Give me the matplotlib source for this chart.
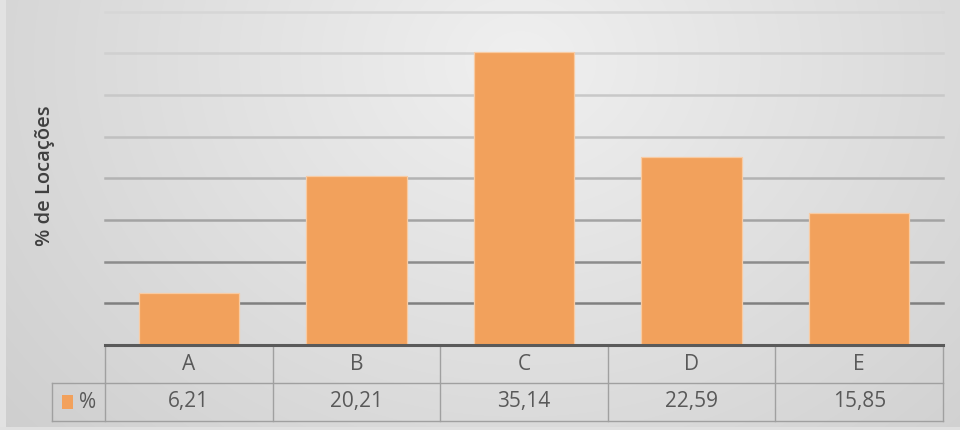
import numpy as np
import matplotlib
matplotlib.use("Agg")
import matplotlib.pyplot as plt
from matplotlib.transforms import blended_transform_factory

categories = ["A", "B", "C", "D", "E"]
values = [6.21, 20.21, 35.14, 22.59, 15.85]
value_labels = ["6,21", "20,21", "35,14", "22,59", "15,85"]
series_name = "%"
ylabel = "% de Locações"
grid_levels = [5, 10, 15, 20, 25, 30, 35, 40]

plt.rcParams['font.family'] = ['Open Sans', 'DejaVu Sans']

W, H = 960, 430
fig = plt.figure(figsize=(W / 100, H / 100), dpi=100)

# background gradient
bg = fig.add_axes([0, 0, 1, 1], zorder=-10)
yy, xx = np.mgrid[0:H, 0:W]
cx, cy = 520, 60
d = np.sqrt(((xx - cx) / 620.0) ** 2 + ((yy - cy) / 520.0) ** 2)
g = 0.94 - 0.14 * np.clip(d, 0, 1.3) / 1.3 * 1.1
g = np.clip(g, 0.78, 0.95)
img = np.dstack([g, g, g])
img[:, :6, :] = 0.89
img[427:, :, :] = 0.88
bg.imshow(img, aspect='auto', extent=[0, W, H, 0])
bg.set_axis_off()

left_px, right_px, top_px, bot_px = 105, 943, 11.5, 345
ax = fig.add_axes([left_px / W, (H - bot_px) / H, (right_px - left_px) / W, (bot_px - top_px) / H])
ax.patch.set_alpha(0)
x = np.arange(len(categories))
ax.set_xlim(-0.5, len(categories) - 0.5)
ax.set_ylim(0, 40)

grid_colors = ["#808080", "#8c8c8c", "#a3a3a3", "#b3b3b3", "#c0c0c0", "#c8c8c8", "#d0d0d0", "#d6d6d6"]
for lvl, c in zip(grid_levels, grid_colors):
    ax.axhline(lvl, color=c, lw=1.8, zorder=1, clip_on=False)

ax.bar(x, values, width=0.6, color="#F2A15C", edgecolor="#F8CBA3", linewidth=0.9, zorder=2)

for s in ["top", "right", "left"]:
    ax.spines[s].set_visible(False)
ax.spines["bottom"].set_color("#5a5a5a")
ax.spines["bottom"].set_linewidth(2.2)
ax.spines["bottom"].set_zorder(3)
ax.set_xticks([])
ax.set_yticks([])

# data table
tr = blended_transform_factory(ax.transData, ax.transAxes)
ah = bot_px - top_px
r1 = -38.0 / ah
r2 = -76.0 / ah
xl = -0.5 - 53.0 / ((right_px - left_px) / len(categories))
lc = "#a0a0a0"
kw = dict(transform=tr, color=lc, lw=1.0, clip_on=False, zorder=1)
ax.plot([-0.5, 4.5], [r1, r1], **kw)
ax.plot([xl, -0.5], [r1, r1], **kw)
ax.plot([xl, 4.5], [r2, r2], **kw)
ax.plot([xl, xl], [r1, r2], **kw)
for b in np.arange(-0.5, len(categories)):
    ax.plot([b, b], [0, r2], **kw)

tc = "#595959"
fs = 15
for i, (c, v) in enumerate(zip(categories, value_labels)):
    ax.text(i, r1 / 2, c, transform=tr, ha='center', va='center', fontsize=fs, color=tc)
    ax.text(i, (r1 + r2) / 2, v, transform=tr, ha='center', va='center', fontsize=fs, color=tc)

# legend key
ax.text(xl + 0.21, (r1 + r2) / 2, series_name, transform=tr, ha='center', va='center', fontsize=fs, color=tc)
ax.add_patch(plt.Rectangle((xl + 0.058, (r1 + r2) / 2 - 0.02), 0.065, 0.04, transform=tr,
                           facecolor="#F2A15C", edgecolor="none", clip_on=False))

fig.text(45 / W, 1 - 176 / H, ylabel, rotation=90, ha='center', va='center', fontsize=14.5,
         color="#404040", fontweight='semibold')

fig.savefig("out.png", dpi=100)
